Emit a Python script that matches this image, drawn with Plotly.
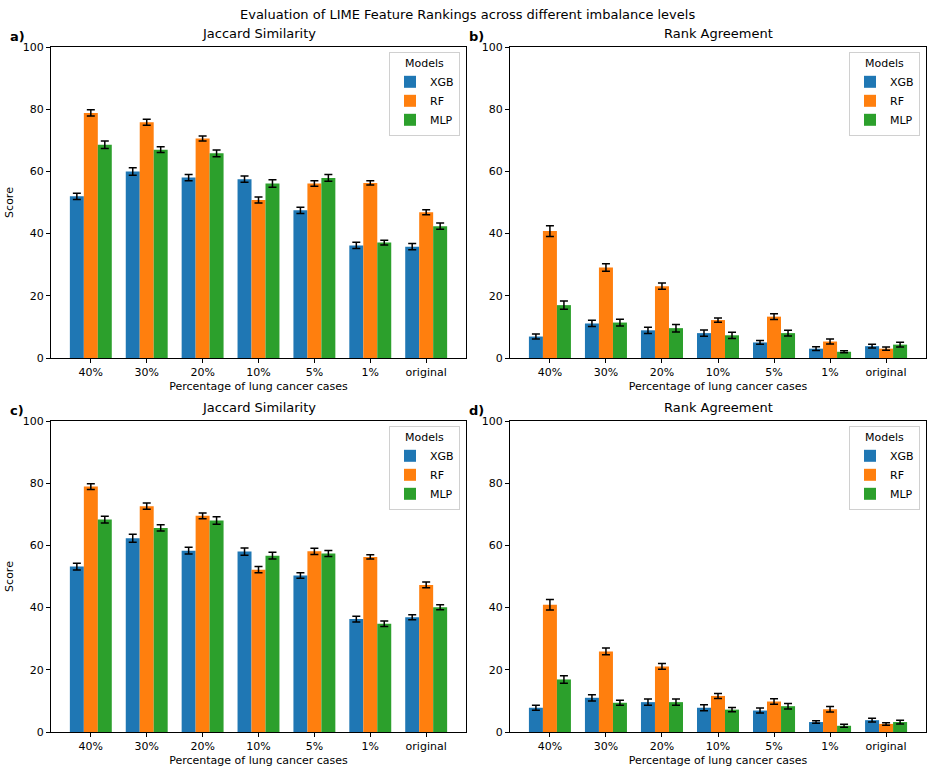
import plotly.graph_objects as go

categories = ["40%", "30%", "20%", "10%", "5%", "1%", "original"]
models = ["XGB", "RF", "MLP"]
colors = ["#1f77b4", "#ff7f0e", "#2ca02c"]

# Panel a) Jaccard Similarity
a_xgb = [52.0, 60.0, 58.0, 57.5, 47.5, 36.2, 35.8]
a_rf = [78.8, 75.8, 70.6, 50.8, 56.1, 56.3, 46.9]
a_mlp = [68.6, 67.0, 65.8, 56.1, 57.9, 37.1, 42.4]
a_err_xgb = [1.0, 1.2, 1.0, 1.0, 1.0, 1.0, 1.0]
a_err_rf = [1.0, 1.0, 0.8, 1.0, 0.9, 0.7, 0.8]
a_err_mlp = [1.2, 0.9, 1.1, 1.2, 1.1, 0.8, 1.0]

# Panel b) Rank Agreement
b_xgb = [6.9, 11.1, 8.9, 8.0, 5.0, 3.0, 3.8]
b_rf = [40.8, 29.1, 23.1, 12.2, 13.3, 5.3, 3.0]
b_mlp = [17.0, 11.4, 9.6, 7.3, 8.0, 2.0, 4.3]
b_err_xgb = [0.8, 1.0, 1.0, 1.0, 0.6, 0.6, 0.6]
b_err_rf = [1.7, 1.2, 1.0, 0.7, 0.9, 0.8, 0.5]
b_err_mlp = [1.3, 1.1, 1.2, 1.0, 0.9, 0.3, 0.8]

# Panel c) Jaccard Similarity
c_xgb = [53.2, 62.3, 58.3, 58.0, 50.3, 36.3, 36.9]
c_rf = [78.9, 72.6, 69.5, 52.2, 58.1, 56.3, 47.3]
c_mlp = [68.3, 65.6, 68.0, 56.7, 57.4, 34.8, 40.1]
c_err_xgb = [1.1, 1.3, 1.1, 1.2, 0.9, 0.9, 0.8]
c_err_rf = [0.9, 1.0, 0.9, 1.0, 1.0, 0.7, 0.9]
c_err_mlp = [1.1, 1.0, 1.2, 1.1, 1.0, 0.9, 0.8]

# Panel d) Rank Agreement
d_xgb = [7.8, 11.0, 9.6, 7.8, 6.9, 3.2, 3.8]
d_rf = [40.9, 25.9, 21.1, 11.6, 9.8, 7.3, 2.6]
d_mlp = [16.9, 9.4, 9.6, 7.2, 8.3, 2.0, 3.2]
d_err_xgb = [0.8, 1.0, 1.0, 1.0, 0.8, 0.4, 0.6]
d_err_rf = [1.7, 1.1, 0.9, 0.8, 0.9, 0.9, 0.4]
d_err_mlp = [1.2, 0.8, 1.0, 0.7, 0.9, 0.5, 0.6]

panels = [
    ("a)", "Jaccard Similarity", [a_xgb, a_rf, a_mlp], [a_err_xgb, a_err_rf, a_err_mlp]),
    ("b)", "Rank Agreement", [b_xgb, b_rf, b_mlp], [b_err_xgb, b_err_rf, b_err_mlp]),
    ("c)", "Jaccard Similarity", [c_xgb, c_rf, c_mlp], [c_err_xgb, c_err_rf, c_err_mlp]),
    ("d)", "Rank Agreement", [d_xgb, d_rf, d_mlp], [d_err_xgb, d_err_rf, d_err_mlp]),
]

W, H = 935, 772
FONT = "DejaVu Sans"

# axes boxes in pixels (left, right, top, bottom)
boxes = [
    (51, 466, 47, 358),
    (510, 926, 47, 358),
    (51, 466, 421, 732),
    (510, 926, 421, 732),
]

fig = go.Figure()
annotations = []
for i, (lab, title, vals, errs) in enumerate(panels):
    n = i + 1
    xa = "x" if n == 1 else f"x{n}"
    ya = "y" if n == 1 else f"y{n}"
    leg = "legend" if n == 1 else f"legend{n}"
    for m, v, e, c in zip(models, vals, errs, colors):
        fig.add_trace(go.Bar(
            x=categories, y=v, name=m, marker=dict(color=c, line=dict(width=0)),
            error_y=dict(type="data", array=e, color="black", thickness=1.5, width=4),
            xaxis=xa, yaxis=ya, legend=leg,
        ))
    l, r, t, b = boxes[i]
    xd = [l / W, r / W]
    yd = [1 - b / H, 1 - t / H]
    axis_common = dict(showline=True, linecolor="black", linewidth=1, mirror=True,
                       ticks="outside", ticklen=4, tickcolor="black",
                       showgrid=False, zeroline=False, automargin=False,
                       tickfont=dict(family=FONT, size=11, color="black"))
    fig.layout[f"xaxis{'' if n == 1 else n}"] = dict(
        domain=xd, anchor=ya, type="category", range=[-0.7125, 6.7125],
        title=dict(text="Percentage of lung cancer cases", standoff=4,
                   font=dict(family=FONT, size=11, color="black")),
        **axis_common)
    fig.layout[f"yaxis{'' if n == 1 else n}"] = dict(
        domain=yd, anchor=xa, range=[0, 100], tickvals=[0, 20, 40, 60, 80, 100],
        title=dict(text="Score" if n in (1, 3) else "", standoff=6,
                   font=dict(family=FONT, size=11, color="black")),
        **axis_common)
    fig.layout[leg] = dict(
        x=(r - 6) / W, y=1 - (t + 5) / H, xanchor="right", yanchor="top",
        bgcolor="rgba(255,255,255,0.8)", bordercolor="#d0d0d0", borderwidth=1,
        title=dict(text="Models", side="top center", font=dict(family=FONT, size=11, color="black")),
        font=dict(family=FONT, size=11, color="black"), tracegroupgap=0,
        itemwidth=30,
    )
    annotations.append(dict(text=title, x=(l + r) / 2 / W, y=1 - (t - 4) / H,
                            xref="paper", yref="paper", xanchor="center", yanchor="bottom",
                            showarrow=False, font=dict(family=FONT, size=13, color="black")))
    annotations.append(dict(text=f"<b>{lab}</b>", x=(l - 43) / W, y=1 - (t - 20) / H,
                            xref="paper", yref="paper", xanchor="left", yanchor="top",
                            showarrow=False, font=dict(family=FONT, size=13, color="black")))

annotations.append(dict(text="Evaluation of LIME Feature Rankings across different imbalance levels",
                        x=0.5, y=1 - 5 / H, xref="paper", yref="paper", xanchor="center",
                        yanchor="top", showarrow=False,
                        font=dict(family=FONT, size=13, color="black")))

fig.update_layout(
    width=W, height=H, margin=dict(l=0, r=0, t=0, b=0, autoexpand=False),
    paper_bgcolor="white", plot_bgcolor="white",
    barmode="group", bargap=0.25, bargroupgap=0,
    annotations=annotations, font=dict(family=FONT, color="black"),
)

fig.write_html("out.html", config={"displayModeBar": False},
               post_script="document.body.style.margin='0';document.body.style.overflow='hidden';")
